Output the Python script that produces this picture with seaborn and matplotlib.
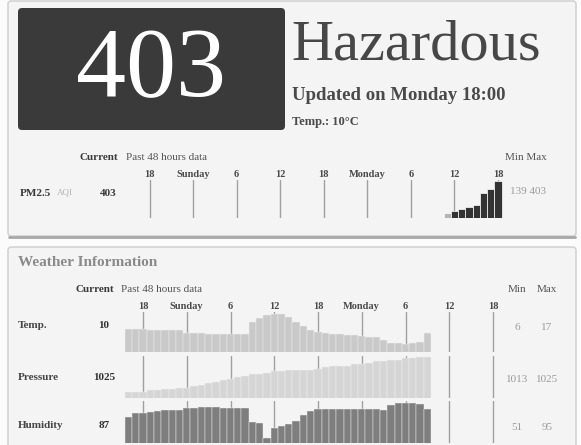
import numpy as np
import pandas as pd
import matplotlib.pyplot as plt
import seaborn as sns
from matplotlib.patches import FancyBboxPatch

sns.set_theme(style="white")
plt.rcParams['font.family'] = ['Liberation Serif', 'DejaVu Serif']

# ---- data ----
aqi_now = 403
aqi_status = "Hazardous"
updated = "Updated on Monday 18:00"
temp_now_label = "Temp.: 10°C"

tick_hours = [0, 6, 12, 18, 24, 30, 36, 42, 48]
tick_labels = ['18', 'Sunday', '6', '12', '18', 'Monday', '6', '12', '18']

pm_hours = [41, 42, 43, 44, 45, 46, 47, 48]
pm_aqi = [139, 160, 170, 190, 210, 300, 335, 403]
pm_min, pm_max = 139, 403

weather_hours = list(range(-2, 40))
temp = [11.4, 11.4, 11.4, 11.0, 11.0, 11.0, 11.0, 11.0,
        10.0, 9.9, 9.9, 9.8, 9.8, 9.5, 9.5, 9.5, 9.7,
        14.0, 15.4, 16.6, 17.0, 17.0, 16.0, 14.2, 12.5, 11.1, 10.5, 10.0, 9.6,
        9.5, 9.4, 9.2, 8.8, 8.6, 8.5, 7.5, 6.5, 6.2, 6.0, 6.3, 6.6, 10.0]
pressure = [1013, 1013, 1013, 1013.5, 1013.5, 1014,
            1014, 1014.5, 1014.5, 1015, 1015.5, 1016,
            1016.5, 1017, 1017.5, 1018, 1018.5,
            1019, 1019, 1019.5, 1020, 1020,
            1020.5, 1020.5, 1020.5, 1020.5, 1021,
            1021.5, 1022, 1022, 1022, 1022.5,
            1022.5, 1023, 1023.5, 1023.5, 1024,
            1024, 1024.5, 1024.5, 1025, 1025]
humidity = [78, 82, 83, 84, 85, 86, 86, 86,
            89, 89, 90, 90, 90, 89, 89, 89, 89,
            71, 70, 51, 63, 66, 69, 72, 80, 85, 87, 88, 88, 87, 87, 87, 87, 88, 88,
            86, 93, 95, 95, 95, 94, 87]

rows = [
    # label, current, series, min, max, color, ylim
    ("Temp.", "10", temp, "6", "17", "#c9c9c9", (3.07, 17.7)),
    ("Pressure", "1025", pressure, "1013", "1025", "#d5d5d5", (1010.9, 1025.3)),
    ("Humidity", "87", humidity, "51", "95", "#7e7e7e", (44.7, 97.5)),
]

W, H = 581, 445
fig = plt.figure(figsize=(W / 100, H / 100), dpi=100)
fig.patch.set_facecolor("#fbfbfb")

bg = fig.add_axes([0, 0, 1, 1])
bg.set_xlim(0, W)
bg.set_ylim(H, 0)
bg.axis('off')


def px_axes(x0, y0, x1, y1):
    ax = fig.add_axes([x0 / W, 1 - y1 / H, (x1 - x0) / W, (y1 - y0) / H])
    ax.patch.set_visible(False)
    for s in ax.spines.values():
        s.set_visible(False)
    ax.set_yticks([])
    return ax


# cards
for y0, y1 in [(1, 236), (247, 452)]:
    bg.add_patch(FancyBboxPatch((8, y0), 568, y1 - y0, boxstyle="round,pad=0,rounding_size=3",
                                facecolor="#f4f4f4", edgecolor="#cdcdcd", lw=1))
bg.plot([9, 575], [236.5, 236.5], color="#a8a8a8", lw=2, solid_capstyle='round')

# big AQI box
bg.add_patch(FancyBboxPatch((18, 8), 267, 122, boxstyle="round,pad=0,rounding_size=4",
                            facecolor="#3a3a3a", edgecolor="none"))
bg.text(151, 72, str(aqi_now), color="white", fontsize=72, ha='center', va='center')
bg.text(291, 46, aqi_status, color="#474747", fontsize=42, ha='left', va='center')
bg.text(292, 95, updated, color="#4a4a4a", fontsize=13.5, fontweight='bold', ha='left', va='center')
bg.text(292, 122, temp_now_label, color="#4a4a4a", fontsize=9, fontweight='bold', ha='left', va='center')

# PM2.5 row
bg.text(80, 157, "Current", color="#3a3a3a", fontsize=8, fontweight='bold', ha='left', va='center')
bg.text(126, 157, "Past 48 hours data", color="#555555", fontsize=8, ha='left', va='center')
bg.text(505, 157, "Min Max", color="#555555", fontsize=8, ha='left', va='center')
bg.text(20, 193, "PM2.5", color="#3a3a3a", fontsize=8, fontweight='bold', ha='left', va='center')
bg.text(57, 193, "AQI", color="#b0b0b0", fontsize=6.5, ha='left', va='center')
bg.text(108, 193, str(aqi_now), color="#3a3a3a", fontsize=8, fontweight='bold', ha='center', va='center')
bg.text(510, 192, f"{pm_min} {pm_max}", color="#9a9a9a", fontsize=8, ha='left', va='center')

pm_pph = 348.5 / 48
ax = px_axes(118, 180, 510, 218)
for h in tick_hours:
    ax.axvline(h, color="#a0a0a0", lw=1, zorder=1)
sns.barplot(x=pm_hours[:1], y=pm_aqi[:1], native_scale=True, width=1, color="#b5b5b5",
            saturation=1, errorbar=None, edgecolor="white", linewidth=0.5, ax=ax, zorder=2)
sns.barplot(x=pm_hours[1:], y=pm_aqi[1:], native_scale=True, width=1, color="#333333",
            saturation=1, errorbar=None, edgecolor="white", linewidth=0.5, ax=ax, zorder=2)
ax.set_xlim((118 - 149.5) / pm_pph, (510 - 149.5) / pm_pph)
ax.set_ylim(100, 410)
ax.set_xticks(tick_hours)
ax.set_xticklabels(tick_labels, fontsize=7.5, color="#4a4a4a", fontweight='bold')
ax.tick_params(axis='x', top=True, bottom=False, labeltop=True, labelbottom=False, length=0, pad=1)
ax.set_xlabel("")
ax.set_ylabel("")

# Weather card
bg.text(18, 262, "Weather Information", color="#8a8a8a", fontsize=11, fontweight='bold',
        ha='left', va='center')
bg.text(75, 290, "Current", color="#3a3a3a", fontsize=8, fontweight='bold', ha='left', va='center')
bg.text(121, 290, "Past 48 hours data", color="#555555", fontsize=8, ha='left', va='center')
bg.text(517, 290, "Min", color="#555555", fontsize=8, ha='center', va='center')
bg.text(547, 290, "Max", color="#555555", fontsize=8, ha='center', va='center')

w_pph = 350 / 48
row_boxes = [(312, 352), (356, 398), (401, 443)]
label_y = [325, 378, 425]
for (name, cur, series, mn, mx, col, ylim), (y0, y1), ly in zip(rows, row_boxes, label_y):
    bg.text(18, ly, name, color="#454545", fontsize=8, fontweight='bold', ha='left', va='center')
    bg.text(104, ly, cur, color="#333333", fontsize=8, fontweight='bold', ha='center', va='center')
    bg.text(517, ly + 2, mn, color="#9a9a9a", fontsize=8, ha='center', va='center')
    bg.text(547, ly + 2, mx, color="#9a9a9a", fontsize=8, ha='center', va='center')

    ax = px_axes(118, y0, 505, y1)
    for h in tick_hours:
        ax.axvline(h, color="#a0a0a0", lw=1, zorder=1)
    sns.barplot(x=weather_hours, y=series, native_scale=True, width=1, color=col,
                saturation=1, errorbar=None, edgecolor="#f2f2f2", linewidth=0.3, ax=ax, zorder=2)
    ax.set_xlim((118 - 143) / w_pph, (505 - 143) / w_pph)
    ax.set_ylim(*ylim)
    ax.set_xlabel("")
    ax.set_ylabel("")
    if y0 == 312:
        ax.set_xticks(tick_hours)
        ax.set_xticklabels(tick_labels, fontsize=7.5, color="#4a4a4a", fontweight='bold')
        ax.tick_params(axis='x', top=True, bottom=False, labeltop=True, labelbottom=False,
                       length=0, pad=1)
    else:
        ax.set_xticks([])

fig.savefig("out.png", dpi=100, facecolor=fig.get_facecolor())
